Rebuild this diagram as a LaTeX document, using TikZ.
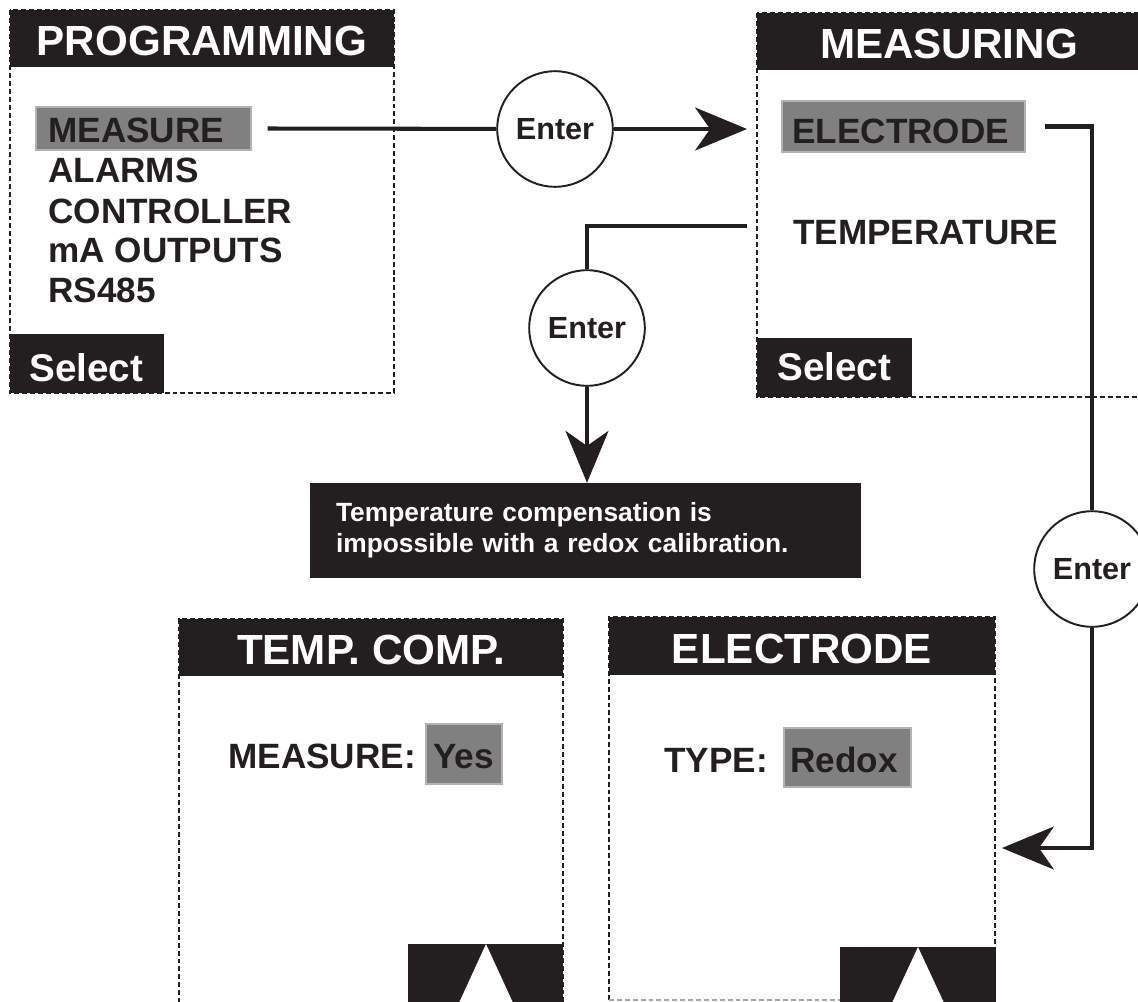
\documentclass[tikz,border=0pt]{standalone}
\usepackage{fontspec}
\setmainfont{Liberation Sans}
\usetikzlibrary{arrows.meta,fit}
\definecolor{ink}{HTML}{231F20}
\definecolor{hlgray}{HTML}{808080}
\definecolor{hledge}{HTML}{B3B3B3}

\begin{document}
\begin{tikzpicture}[x=0.02cm, y=-0.02cm,
frame/.style={draw=ink, line width=1.5pt, dash pattern=on 2.8pt off 1.7pt},
titlebar/.style={fill=ink, inner sep=0},
titletext/.style={anchor=base, inner sep=0, text=white, font=\fontsize{24}{28}\selectfont\bfseries},
softkey/.style={anchor=base west, inner sep=0, text=white, font=\fontsize{22}{26}\selectfont\bfseries},
hl/.style={fill=hlgray, draw=hledge, line width=0.9pt, inner sep=0},
item/.style={anchor=base west, inner sep=0, text=ink, font=\fontsize{20}{24}\selectfont\bfseries},
enterkey/.style={circle, draw=ink, fill=white, line width=1.1pt, minimum size=65.8pt, inner sep=0, text=ink, font=\fontsize{17.4}{20}\selectfont\bfseries},
note/.style={fill=ink, text=white, inner sep=0, minimum width=313.5pt, minimum height=53.9pt, text width=284pt, align=left, font=\fontsize{15}{17.6}\selectfont\bfseries},
flow/.style={draw=ink, line width=2.3pt},
flowtip/.style={-{Stealth[length=29.5pt, width=24.4pt, inset=8.5pt]}}]
\useasboundingbox (0,0) rectangle (1138,1001);
\clip (0,0) rectangle (1138,1001);
\draw[frame] (10,10) rectangle (394,393);
\draw[frame] (757,13) rectangle (1141,397);
\draw[frame] (179,1003) -- (179,619) -- (563,619) -- (563,1003);
\draw[frame] (609,1000) -- (609,617) -- (995,617) -- (995,1000);
\draw[frame, draw=black!35, line width=0.6pt] (609,1000) -- (840,1000);

\node[titlebar, fit={(10,10) (394,67)}] (P) {};
\node[titletext] (P0) at (202,55) {PROGRAMMING};
\node[titlebar, fit={(10,334) (164,393)}] (P1) {};
\node[softkey] (P8) at (29,381) {Select};
\node[hl, fit={(36,107) (251,150)}] (P2) {};
\node[item] (P3) at (48,142) {MEASURE};
\node[item] (P4) at (48,182) {ALARMS};
\node[item] (P5) at (48,223) {CONTROLLER};
\node[item] (P6) at (48,262) {mA OUTPUTS};
\node[item] (P7) at (48,302) {RS485};

\node[titlebar, fit={(757,13) (1141,70)}] (M) {};
\node[titletext] (M0) at (949,58) {MEASURING};
\node[titlebar, fit={(757,338) (912,397)}] (M1) {};
\node[softkey] (M5) at (777,380) {Select};
\node[hl, fit={(782,101) (1025,152)}] (M2) {};
\node[item] (M3) at (792,143) {ELECTRODE};
\node[item] (M4) at (793,244) {TEMPERATURE};

\node[titlebar, fit={(179,619) (563,676)}] (T) {};
\node[titletext] (T0) at (371,664) {TEMP. COMP.};
\node[hl, fit={(426,724) (502,784)}] (T1) {};
\node[item] (T2) at (228,768) {MEASURE:};
\node[item] (T3) at (433,768) {Yes};
\fill[ink] (408,944) rectangle (563,1003);
\fill[white] (486,944) -- (458,1005) -- (514,1005) -- cycle;

\node[titlebar, fit={(609,617) (995,675)}] (E) {};
\node[titletext] (E0) at (802,663) {ELECTRODE};
\node[hl, fit={(784,728) (911,787)}] (E1) {};
\node[item] (E2) at (664,772) {TYPE:};
\node[item] (E3) at (790,772) {Redox};
\fill[ink] (840,947) rectangle (996,1003);
\fill[white] (918,947) -- (891,1005) -- (945,1005) -- cycle;

\node[note] (N) at (585.5,530.5) {Temperature compensation is\\impossible with a redox calibration.};

\node[enterkey] (K1) at (555,129) {Enter};
\node[enterkey] (K2) at (587,328) {Enter};
\node[enterkey] (K3) at (1092,569) {Enter};
\coordinate (A1) at (747,129);
\coordinate (A2) at (747,226);
\coordinate (A3) at (1002,848);

\draw[flow] ([xshift=9pt]P2.east) -- (K1);
\draw[flow, flowtip] (K1) -- (A1);
\draw[flow] ([xshift=11pt]M2.east) -| (K3);
\draw[flow, flowtip] (K3) |- (A3);
\draw[flow] (A2) -| (K2);
\draw[flow, flowtip] (K2) -- (K2 |- N.north);
\end{tikzpicture}
\end{document}
